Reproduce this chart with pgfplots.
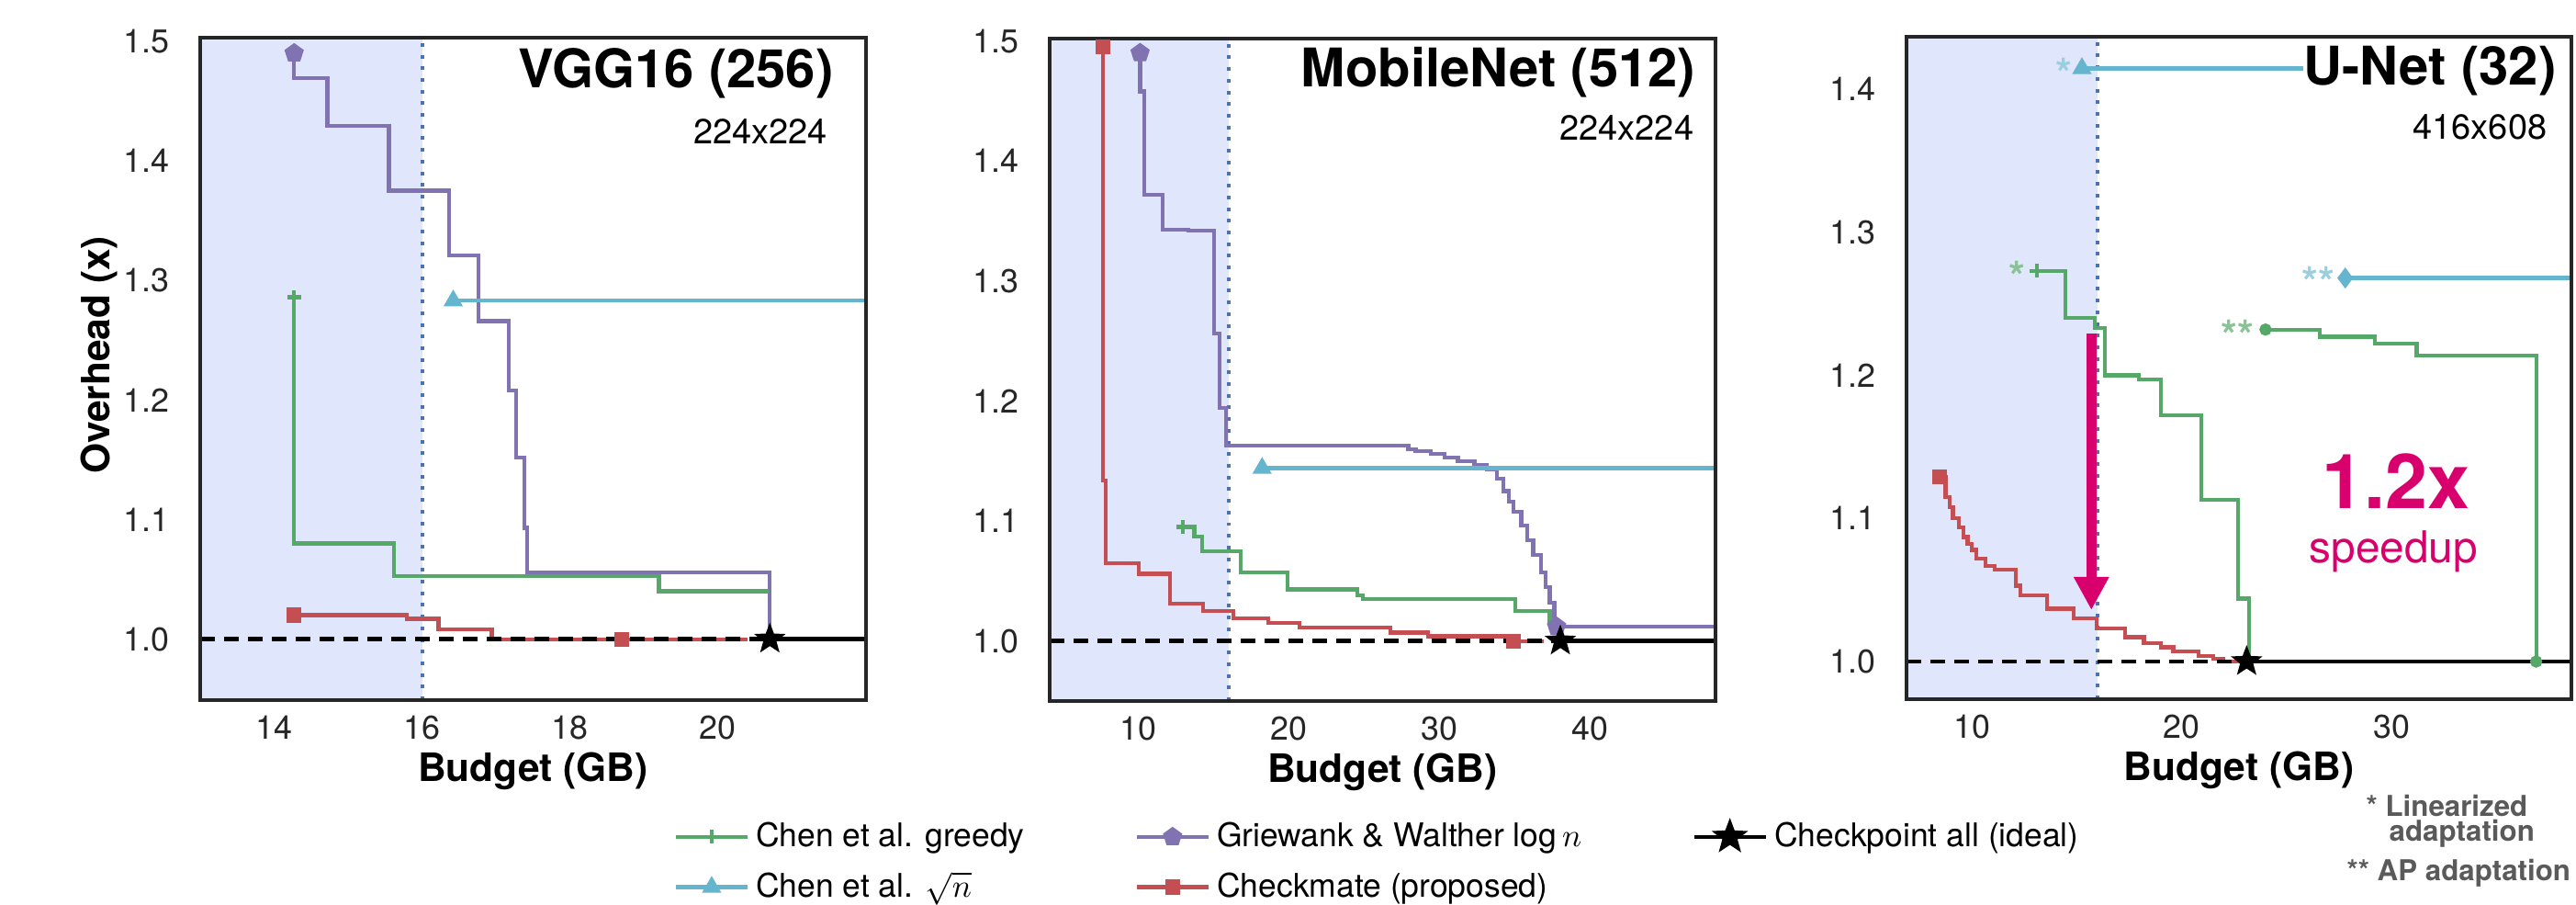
\documentclass[border=0pt]{standalone}
\usepackage{fontspec}
\setmainfont{TeX Gyre Heros}
\usepackage{pgfplots}
\pgfplotsset{compat=1.18}
\usetikzlibrary{arrows.meta,plotmarks}
\definecolor{cgreen}{RGB}{85,168,104}
\definecolor{ccyan}{RGB}{100,181,205}
\definecolor{cpurple}{RGB}{129,114,178}
\definecolor{cred}{RGB}{196,78,82}
\definecolor{shadec}{RGB}{224,230,251}
\definecolor{dotc}{RGB}{76,114,176}
\definecolor{magc}{RGB}{216,0,108}
\definecolor{framec}{RGB}{38,38,38}
\definecolor{notec}{RGB}{90,90,90}
\pgfdeclareplotmark{fstar}{%
 \pgfpathmoveto{\pgfpointpolar{90}{\pgfplotmarksize}}%
 \pgfpathlineto{\pgfpointpolar{126}{0.42\pgfplotmarksize}}%
 \pgfpathlineto{\pgfpointpolar{162}{\pgfplotmarksize}}%
 \pgfpathlineto{\pgfpointpolar{198}{0.42\pgfplotmarksize}}%
 \pgfpathlineto{\pgfpointpolar{234}{\pgfplotmarksize}}%
 \pgfpathlineto{\pgfpointpolar{270}{0.42\pgfplotmarksize}}%
 \pgfpathlineto{\pgfpointpolar{306}{\pgfplotmarksize}}%
 \pgfpathlineto{\pgfpointpolar{342}{0.42\pgfplotmarksize}}%
 \pgfpathlineto{\pgfpointpolar{18}{\pgfplotmarksize}}%
 \pgfpathlineto{\pgfpointpolar{54}{0.42\pgfplotmarksize}}%
 \pgfpathclose\pgfusepathqfillstroke}
\tikzset{
 title1/.style={anchor=east, inner sep=0pt, font=\fontsize{16.5}{18}\selectfont\bfseries},
 title2/.style={anchor=east, inner sep=0pt, font=\fontsize{10.8}{12}\selectfont},
}
\pgfplotsset{
 panel/.style={
   scale only axis, axis on top, width=72.5mm, height=72.1mm, anchor=south west,
   axis line style={line width=1.1pt, color=framec},
   major tick length=0pt, tick style={draw=none},
   ticklabel style={font=\fontsize{10.2}{12}\selectfont, text=framec},
   yticklabel style={xshift=-2.1mm},
   xticklabel style={yshift=-0.5mm},
   xlabel={Budget (GB)},
   xlabel style={font=\fontsize{12.1}{14}\selectfont\bfseries, at={(axis description cs:0.5,-0.108)}, anchor=center},
 },
 ser/.style={line width=1.2pt, const plot, forget plot, mark options={solid}},
 blk/.style={black, line width=1.35pt, forget plot},
}
\begin{document}
\begin{tikzpicture}
% ---------------- Panel 1 : VGG16 ----------------
\begin{axis}[panel, at={(21.8mm,22.2mm)},
  xmin=13, xmax=22, ymin=0.949, ymax=1.503,
  xtick={14,16,18,20}, xticklabels={14,16,18,20},
  ytick={1.0,1.1,1.2,1.3,1.4,1.5}, yticklabels={1.0,1.1,1.2,1.3,1.4,1.5},
  ylabel={Overhead (x)},
  ylabel style={font=\fontsize{12.1}{14}\selectfont\bfseries, at={(axis description cs:-0.152,0.521)}, anchor=center},
  legend columns=3,
  legend style={draw=none, fill=none, at={(axis description cs:0.696,-0.164)}, anchor=north west,
    font=\fontsize{10.1}{12}\selectfont, row sep=0.8mm,
    /tikz/every even column/.append style={column sep=11.3mm}},
  legend cell align=left,
  legend image code/.code={\draw[mark repeat=2,mark phase=2] plot coordinates {(0mm,0mm) (3.9mm,0mm) (7.8mm,0mm)};},
]
\fill[shadec] (axis cs:13,0.949) rectangle (axis cs:16,1.503);
\draw[dotc, line width=0.4mm, dash pattern=on 0.4mm off 0.87mm] (axis cs:16,0.949) -- (axis cs:16,1.503);
\addplot[ser, cpurple, mark=pentagon*, mark size=0.85mm, mark indices={1}] coordinates {
 (14.27,1.490) (14.27,1.469) (14.72,1.429) (15.55,1.375) (16.36,1.321) (16.76,1.266)
 (17.17,1.208) (17.27,1.152) (17.38,1.093) (17.42,1.056) (20.70,1.000)};
\addplot[ser, cgreen, mark=+, mark size=0.75mm, mark indices={1}] coordinates {
 (14.27,1.286) (14.27,1.080) (15.62,1.053) (19.20,1.040) (20.68,1.040)};
\addplot[ser, ccyan, mark=triangle*, mark size=0.8mm, mark indices={1}] coordinates {
 (16.42,1.283) (22.0,1.283)};
\addplot[ser, cred, mark=square*, mark size=0.6mm, mark indices={1,5}] coordinates {
 (14.27,1.020) (15.79,1.017) (16.22,1.008) (16.94,1.000) (18.70,1.000) (20.40,1.000)};
\addplot[blk, dash pattern=on 1.6mm off 1mm] coordinates {(13,1) (20.70,1)};
\addplot[blk] coordinates {(20.70,1) (22,1)};
\addplot[forget plot, only marks, mark=fstar, mark size=1.6mm, black] coordinates {(20.70,1.0)};
\node[title1] at (rel axis cs:0.952,0.946) {VGG16 (256)};
\node[title2] at (rel axis cs:0.943,0.859) {224x224};
% legend
\addlegendimage{cgreen, line width=1.2pt, mark=+, mark size=0.75mm}
\addlegendentry{Chen et al. greedy}
\addlegendimage{cpurple, line width=1.2pt, mark=pentagon*, mark size=0.85mm}
\addlegendentry{Griewank \& Walther $\log n$}
\addlegendimage{black, line width=1.35pt, mark=fstar, mark size=1.4mm}
\addlegendentry{Checkpoint all (ideal)}
\addlegendimage{ccyan, line width=1.2pt, mark=triangle*, mark size=0.8mm}
\addlegendentry{Chen et al. $\sqrt{n}$}
\addlegendimage{cred, line width=1.2pt, mark=square*, mark size=0.6mm}
\addlegendentry{Checkmate (proposed)}
\end{axis}
% ---------------- Panel 2 : MobileNet ----------------
\begin{axis}[panel, at={(114.3mm,22.1mm)},
  xmin=4.1, xmax=48.3, ymin=0.950, ymax=1.502,
  xtick={10,20,30,40}, xticklabels={10,20,30,40},
  ytick={1.0,1.1,1.2,1.3,1.4,1.5}, yticklabels={1.0,1.1,1.2,1.3,1.4,1.5},
]
\fill[shadec] (axis cs:4.1,0.950) rectangle (axis cs:16,1.502);
\draw[dotc, line width=0.4mm, dash pattern=on 0.4mm off 0.87mm] (axis cs:16,0.950) -- (axis cs:16,1.502);
\addplot[ser, cred, mark=square*, mark size=0.6mm, mark indices={1,12}] coordinates {
 (7.63,1.495) (7.63,1.134) (7.83,1.065) (10.0,1.056) (12.1,1.031) (14.3,1.025) (16.3,1.019)
 (18.6,1.015) (20.7,1.011) (26.7,1.007) (29.2,1.004) (34.9,1.000) (36.9,1.000)};
\addplot[ser, cpurple, mark=pentagon*, mark size=0.85mm, mark indices={1,29}] coordinates {
 (10.1,1.490) (10.1,1.458) (10.4,1.372) (11.6,1.343) (13.3,1.342) (15.0,1.256) (15.4,1.194)
 (15.8,1.163) (27.9,1.160) (28.4,1.158) (29.4,1.156) (30.3,1.153) (31.2,1.150) (32.3,1.147)
 (33.1,1.143) (33.8,1.135) (34.2,1.125) (34.6,1.116) (34.9,1.108) (35.4,1.096) (35.8,1.084)
 (36.2,1.072) (36.7,1.057) (37.0,1.045) (37.3,1.032) (37.6,1.017) (37.7,1.014) (37.75,1.012)
 (37.75,1.012) (48.3,1.012)};
\addplot[ser, cgreen, mark=+, mark size=0.75mm, mark indices={1}] coordinates {
 (12.95,1.095) (13.7,1.087) (14.2,1.075) (16.8,1.057) (19.9,1.043) (24.5,1.038) (24.9,1.035)
 (35.0,1.025) (37.3,1.017) (37.6,1.012)};
\addplot[ser, ccyan, mark=triangle*, mark size=0.8mm, mark indices={1}] coordinates {
 (18.2,1.144) (48.3,1.144)};
\addplot[blk, dash pattern=on 1.6mm off 1mm] coordinates {(4.1,1) (38.0,1)};
\addplot[blk] coordinates {(38.0,1) (48.3,1)};
\addplot[forget plot, only marks, mark=fstar, mark size=1.6mm, black] coordinates {(38.0,1.0)};
\node[title1] at (rel axis cs:0.971,0.949) {MobileNet (512)};
\node[title2] at (rel axis cs:0.968,0.866) {224x224};
\end{axis}
% ---------------- Panel 3 : U-Net ----------------
\begin{axis}[panel, at={(207.6mm,22.3mm)}, width=72.4mm,
  xmin=6.89, xmax=38.58, ymin=0.9737, ymax=1.4366,
  xtick={10,20,30}, xticklabels={10,20,30},
  ytick={1.0,1.1,1.2,1.3,1.4}, yticklabels={1.0,1.1,1.2,1.3,1.4},
]
\fill[shadec] (axis cs:6.89,0.9737) rectangle (axis cs:16,1.4366);
\draw[dotc, line width=0.4mm, dash pattern=on 0.4mm off 0.87mm] (axis cs:16,0.9737) -- (axis cs:16,1.4366);
\addplot[ser, ccyan, mark=triangle*, mark size=0.8mm, mark indices={1}] coordinates {
 (15.25,1.4145) (25.8,1.4145)};
\addplot[ser, ccyan, mark=diamond*, mark size=0.8mm, mark indices={1}] coordinates {
 (27.8,1.268) (38.58,1.268)};
\addplot[ser, cgreen, mark=+, mark size=0.75mm, mark indices={1}] coordinates {
 (13.1,1.273) (14.46,1.240) (15.87,1.233) (16.35,1.200) (17.96,1.197) (19.0,1.172)
 (20.94,1.113) (22.7,1.044) (23.2,1.000)};
\addplot[ser, cgreen, mark=*, mark size=0.45mm, mark indices={1,5}] coordinates {
 (24.0,1.232) (26.6,1.227) (29.2,1.222) (31.2,1.214) (36.9,1.000)};
\addplot[ser, cred, mark=square*, mark size=0.6mm, mark indices={1}] coordinates {
 (8.47,1.129) (8.75,1.115) (8.95,1.108) (9.1,1.100) (9.4,1.094) (9.6,1.087) (9.8,1.082)
 (10.0,1.078) (10.2,1.072) (10.66,1.067) (11.1,1.064) (12.1,1.053) (12.3,1.046) (13.6,1.037)
 (14.86,1.030) (15.95,1.023) (17.3,1.017) (18.2,1.013) (19.0,1.010) (19.6,1.007) (20.8,1.004)
 (21.5,1.002) (22.0,1.000) (23.0,1.000)};
\addplot[blk, dash pattern=on 1.6mm off 1mm] coordinates {(6.89,1) (23.1,1)};
\addplot[blk] coordinates {(23.1,1) (38.58,1)};
\addplot[forget plot, only marks, mark=fstar, mark size=1.6mm, black] coordinates {(23.1,1.0)};
\node[font=\fontsize{13}{14}\selectfont\bfseries, text=ccyan!65!white] at (axis cs:14.38,1.411) {*};
\node[font=\fontsize{13}{14}\selectfont\bfseries, text=ccyan!65!white] at (axis cs:26.5,1.265) {**};
\node[font=\fontsize{13}{14}\selectfont\bfseries, text=cgreen!70!white] at (axis cs:12.15,1.269) {*};
\node[font=\fontsize{13}{14}\selectfont\bfseries, text=cgreen!70!white] at (axis cs:22.67,1.228) {**};
\draw[magc, line width=1.1mm, -{Triangle[width=3.6mm,length=3.6mm]}] (axis cs:15.7,1.229) -- (axis cs:15.7,1.036);
\node[font=\fontsize{23.5}{26}\selectfont\bfseries, text=magc] at (axis cs:30.2,1.126) {1.2x};
\node[font=\fontsize{13.6}{15}\selectfont, text=magc] at (axis cs:30.1,1.077) {speedup};
\node[title1] at (rel axis cs:0.978,0.949) {U-Net (32)};
\node[title2] at (rel axis cs:0.964,0.864) {416x608};
\end{axis}
% notes
\node[anchor=west, inner sep=0pt, font=\fontsize{8.9}{10}\selectfont\bfseries, text=notec] at (257.6mm,10.7mm) {* Linearized};
\node[anchor=west, inner sep=0pt, font=\fontsize{8.9}{10}\selectfont\bfseries, text=notec] at (260.1mm,7.7mm) {adaptation};
\node[anchor=west, inner sep=0pt, font=\fontsize{8.9}{10}\selectfont\bfseries, text=notec] at (255.5mm,3.4mm) {** AP adaptation};
\pgfresetboundingbox
\path (0,0) rectangle (280.5mm,98.4mm);
\end{tikzpicture}
\end{document}
